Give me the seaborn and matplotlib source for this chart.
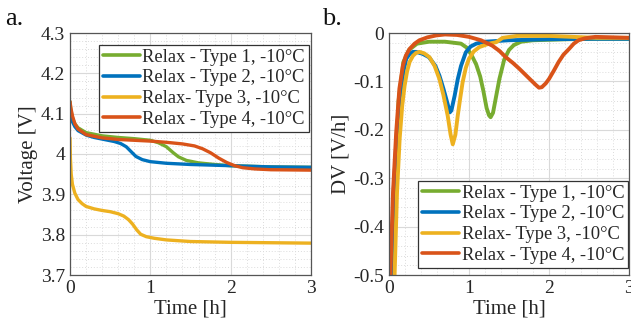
import numpy as np
import pandas as pd
import matplotlib
matplotlib.use("Agg")
import matplotlib.pyplot as plt
import seaborn as sns
from matplotlib.ticker import AutoMinorLocator

labels = ["Relax - Type 1, -10°C", "Relax - Type 2, -10°C",
          "Relax- Type 3, -10°C", "Relax - Type 4, -10°C"]
colors = ["#77AC30", "#0072BD", "#EDB120", "#D95319"]

# Panel a: voltage vs time
t1 = [0, 0.01, 0.03, 0.06, 0.1, 0.2, 0.4, 0.6, 0.8, 1.0, 1.1, 1.2, 1.28, 1.35, 1.45, 1.6, 1.8, 2.0, 2.5, 3.0]
v1 = [4.13, 4.11, 4.09, 4.075, 4.065, 4.053, 4.045, 4.041, 4.038, 4.034, 4.028, 4.018, 4.004, 3.993, 3.984, 3.978, 3.974, 3.971, 3.968, 3.967]
t2 = [0, 0.01, 0.03, 0.06, 0.1, 0.2, 0.3, 0.45, 0.55, 0.63, 0.7, 0.76, 0.82, 0.9, 1.0, 1.2, 1.5, 2.0, 2.5, 3.0]
v2 = [4.11, 4.095, 4.08, 4.068, 4.058, 4.047, 4.041, 4.035, 4.031, 4.026, 4.018, 4.006, 3.994, 3.986, 3.981, 3.977, 3.974, 3.971, 3.968, 3.967]
t3 = [0, 0.005, 0.015, 0.03, 0.06, 0.1, 0.15, 0.2, 0.3, 0.4, 0.5, 0.6, 0.67, 0.73, 0.78, 0.83, 0.88, 0.95, 1.05, 1.2, 1.5, 2.0, 2.5, 3.0]
v3 = [4.04, 3.99, 3.95, 3.925, 3.903, 3.887, 3.877, 3.87, 3.864, 3.86, 3.857, 3.852, 3.846, 3.837, 3.826, 3.812, 3.801, 3.795, 3.791, 3.787, 3.783, 3.781, 3.78, 3.779]
t4 = [0, 0.01, 0.03, 0.06, 0.1, 0.2, 0.4, 0.6, 0.8, 1.0, 1.2, 1.4, 1.55, 1.65, 1.75, 1.85, 1.95, 2.05, 2.15, 2.3, 2.5, 3.0]
v4 = [4.13, 4.115, 4.095, 4.075, 4.062, 4.048, 4.04, 4.036, 4.034, 4.032, 4.029, 4.025, 4.02, 4.013, 4.003, 3.99, 3.979, 3.971, 3.966, 3.963, 3.961, 3.96]

# Panel b: DV vs time
d_t1 = [0.05, 0.08, 0.12, 0.18, 0.25, 0.35, 0.5, 0.7, 0.9, 0.97, 1.03, 1.09, 1.14, 1.18, 1.22, 1.25, 1.27, 1.3, 1.34, 1.38, 1.44, 1.5, 1.56, 1.65, 1.8, 2.2, 2.6, 3.0]
d_v1 = [-0.5, -0.3, -0.14, -0.06, -0.035, -0.022, -0.018, -0.018, -0.022, -0.03, -0.045, -0.065, -0.09, -0.12, -0.155, -0.17, -0.174, -0.165, -0.13, -0.095, -0.055, -0.035, -0.025, -0.018, -0.015, -0.013, -0.012, -0.012]
d_t2 = [0.03, 0.06, 0.1, 0.133, 0.18, 0.216, 0.26, 0.3, 0.34, 0.42, 0.5, 0.58, 0.63, 0.68, 0.73, 0.76, 0.78, 0.82, 0.86, 0.9, 0.96, 1.02, 1.09, 1.2, 1.5, 2.0, 2.5, 3.0]
d_v2 = [-0.5, -0.32, -0.2, -0.136, -0.08, -0.053, -0.043, -0.039, -0.039, -0.043, -0.05, -0.068, -0.088, -0.115, -0.145, -0.164, -0.16, -0.13, -0.095, -0.068, -0.04, -0.028, -0.022, -0.018, -0.015, -0.013, -0.012, -0.012]
d_t3 = [0.07, 0.1, 0.133, 0.165, 0.195, 0.225, 0.257, 0.3, 0.34, 0.38, 0.44, 0.506, 0.57, 0.63, 0.68, 0.734, 0.77, 0.797, 0.83, 0.859, 0.89, 0.92, 0.96, 1.0, 1.06, 1.13, 1.25, 1.34, 1.42, 1.6, 2.0, 2.3, 2.6, 3.0]
d_v3 = [-0.5, -0.33, -0.219, -0.15, -0.109, -0.08, -0.06, -0.047, -0.041, -0.039, -0.042, -0.05, -0.068, -0.095, -0.128, -0.171, -0.21, -0.23, -0.21, -0.171, -0.135, -0.102, -0.072, -0.053, -0.038, -0.029, -0.022, -0.019, -0.01, -0.006, -0.006, -0.008, -0.01, -0.01]
d_t4 = [0.017, 0.05, 0.09, 0.13, 0.174, 0.21, 0.257, 0.32, 0.38, 0.48, 0.59, 0.7, 0.85, 1.0, 1.15, 1.29, 1.38, 1.46, 1.55, 1.63, 1.71, 1.79, 1.84, 1.875, 1.91, 1.96, 2.0, 2.06, 2.12, 2.18, 2.25, 2.31, 2.37, 2.45, 2.58, 2.8, 3.0]
d_v4 = [-0.5, -0.33, -0.205, -0.115, -0.067, -0.047, -0.033, -0.022, -0.015, -0.009, -0.005, -0.003, -0.004, -0.008, -0.015, -0.026, -0.037, -0.05, -0.062, -0.074, -0.087, -0.1, -0.108, -0.113, -0.112, -0.104, -0.095, -0.078, -0.06, -0.045, -0.033, -0.022, -0.015, -0.011, -0.008, -0.009, -0.01]

df_a = pd.concat([
    pd.DataFrame({"t": t, "v": v, "series": lab})
    for t, v, lab in zip([t1, t2, t3, t4], [v1, v2, v3, v4], labels)
], ignore_index=True)
df_b = pd.concat([
    pd.DataFrame({"t": t, "v": v, "series": lab})
    for t, v, lab in zip([d_t1, d_t2, d_t3, d_t4], [d_v1, d_v2, d_v3, d_v4], labels)
], ignore_index=True)

sns.set_style("white")
plt.rcParams["font.family"] = ["Liberation Serif", "DejaVu Serif"]
plt.rcParams["axes.unicode_minus"] = False

fig = plt.figure(figsize=(6.31, 3.34), dpi=100)
ax1 = fig.add_axes([70/631, 1-275/334, 241/631, 242/334])
ax2 = fig.add_axes([389/631, 1-275/334, 240/631, 242/334])

pal = dict(zip(labels, colors))
sns.lineplot(data=df_a, x="t", y="v", hue="series", palette=pal, sort=False,
             estimator=None, linewidth=2.4, ax=ax1)
sns.lineplot(data=df_b, x="t", y="v", hue="series", palette=pal, sort=False,
             estimator=None, linewidth=2.8, ax=ax2)

def style(ax, xlab, ylab):
    ax.set_xlim(0, 3)
    ax.set_xticks([0, 1, 2, 3])
    ax.xaxis.set_minor_locator(AutoMinorLocator(5))
    ax.yaxis.set_minor_locator(AutoMinorLocator(5))
    ax.grid(True, which="major", color="#d9d9d9", linewidth=0.8, linestyle="-")
    ax.grid(True, which="minor", color="#dcdcdc", linewidth=0.7, linestyle=(0, (1, 2)))
    ax.set_axisbelow(True)
    for s in ax.spines.values():
        s.set_color("#555555")
        s.set_linewidth(0.9)
    ax.tick_params(which="both", direction="in", labelsize=14, colors="#333333",
                   labelcolor="#262626", length=3)
    ax.tick_params(which="minor", length=0)
    ax.set_xlabel(xlab, fontsize=15, color="#262626", labelpad=2)
    ax.set_ylabel(ylab, fontsize=15, color="#262626", labelpad=2)
    leg = ax.get_legend()
    if leg is not None:
        leg.remove()

style(ax1, "Time [h]", "Voltage [V]")
ax1.set_ylim(3.7, 4.3)
ax1.set_yticks([3.7, 3.8, 3.9, 4.0, 4.1, 4.2, 4.3])
ax1.set_yticklabels(["3.7", "3.8", "3.9", "4", "4.1", "4.2", "4.3"])

style(ax2, "Time [h]", "DV [V/h]")
ax2.set_ylim(-0.5, 0)
ax2.set_yticks([-0.5, -0.4, -0.3, -0.2, -0.1, 0])
ax2.set_yticklabels(["-0.5", "-0.4", "-0.3", "-0.2", "-0.1", "0"])

for ax, loc, anchor in [(ax1, "upper right", (0.99, 0.952)),
                        (ax2, "lower right", (0.997, 0.03))]:
    handles = [plt.Line2D([], [], color=c, linewidth=2.6) for c in colors]
    lg = ax.legend(handles, labels, loc=loc, bbox_to_anchor=anchor, fontsize=13.3,
                   frameon=True, fancybox=False,
                   handlelength=2.0, handletextpad=0.12, borderpad=0.22,
                   labelspacing=0.2, borderaxespad=0.0)
    lg.get_frame().set_edgecolor("#333333")
    lg.get_frame().set_linewidth(0.9)
    lg.get_frame().set_alpha(1)
    for txt in lg.get_texts():
        txt.set_color("#262626")

fig.text(5/631, 1-25/334, "a.", fontsize=19, color="#111111")
fig.text(322/631, 1-25/334, "b.", fontsize=19, color="#111111")

fig.savefig("out.png", dpi=100)
